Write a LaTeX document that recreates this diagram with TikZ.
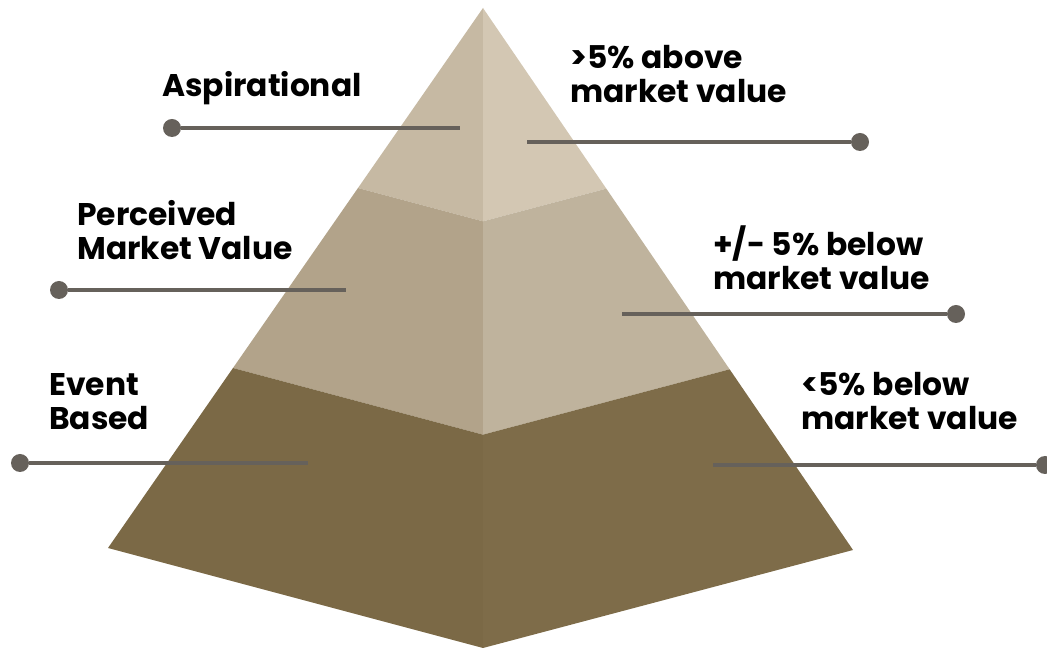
\documentclass[tikz,border=0pt]{standalone}
\usepackage{fontspec}
\setmainfont{Poppins}
\usetikzlibrary{calc,positioning}

\definecolor{topL}{HTML}{C6B9A3}
\definecolor{topR}{HTML}{D3C7B3}
\definecolor{midL}{HTML}{B2A38A}
\definecolor{midR}{HTML}{BFB39D}
\definecolor{botL}{HTML}{7B6946}
\definecolor{botR}{HTML}{7E6C49}
\definecolor{leadgray}{HTML}{66615B}

\tikzset{
  leader/.style={draw=leadgray, line width=3pt},
  dot/.style={circle, fill=leadgray, inner sep=0pt, minimum size=13.5pt},
  tierlabel/.style={font=\bfseries\fontsize{23.5}{25.5}\selectfont, align=left,
    inner sep=0pt, anchor=north west},
}

\begin{document}
\begin{tikzpicture}[x=0.75pt, y=-0.75pt]
\useasboundingbox (0,0) rectangle (1047,655);
    \coordinate (apex) at (483,8);
    \coordinate (cl) at (108,548);
    \coordinate (cb) at (483,648);
    \coordinate (cr) at (853,550);
    %% band boundaries sit at thirds of each edge
    \coordinate (l1) at ($(apex)!1/3!(cl)$);
    \coordinate (m1) at ($(apex)!1/3!(cb)$);
    \coordinate (r1) at ($(apex)!1/3!(cr)$);
    \coordinate (l2) at ($(apex)!2/3!(cl)$);
    \coordinate (m2) at ($(apex)!2/3!(cb)$);
    \coordinate (r2) at ($(apex)!2/3!(cr)$);
    \fill[topL] (apex) -- (l1) -- (m1) -- cycle;
    \fill[topR] (apex) -- (m1) -- (r1) -- cycle;
    \fill[midL] (l1) -- (l2) -- (m2) -- (m1) -- cycle;
    \fill[midR] (m1) -- (m2) -- (r2) -- (r1) -- cycle;
    \fill[botL] (l2) -- (cl) -- (cb) -- (m2) -- cycle;
    \fill[botR] (m2) -- (cb) -- (cr) -- (r2) -- cycle;

    %% left side leaders
    \node[dot] (aspdot) at (172,128) {};
    \coordinate (aspend) at (460,128);
    \node[dot] (perdot) at (59,290) {};
    \coordinate (perend) at (346,290);
    \node[dot] (evtdot) at (20,463) {};
    \coordinate (evtend) at (308,463);
    %% right side leaders
    \coordinate (abvend) at (527,142);
    \node[dot] (abvdot) at (860,142) {};
    \coordinate (pmend) at (622,314);
    \node[dot] (pmdot) at (956,314) {};
    \coordinate (blwend) at (713,465);
    \node[dot] (blwdot) at (1045,465) {};
    \draw[leader] (aspdot) -- (aspend);
    \draw[leader] (perdot) -- (perend);
    \draw[leader] (evtdot) -- (evtend);
    \draw[leader] (abvend) -- (abvdot);
    \draw[leader] (pmend) -- (pmdot);
    \draw[leader] (blwend) -- (blwdot);

    \node[tierlabel] (asp) at (162,71) {Aspirational};
    \node[tierlabel] (per) at (77,200) {Perceived\\Market Value};
    \node[tierlabel] (evt) at (49,373) {Event\\Based};
    \node[tierlabel] (abv) at (570,45) {>5\% above\\market value};
    \node[tierlabel] (pm) at (713,225) {+/- 5\% below\\market value};
    \node[tierlabel] (blw) at (801,372) {<5\% below\\market value};
\end{tikzpicture}
\end{document}
